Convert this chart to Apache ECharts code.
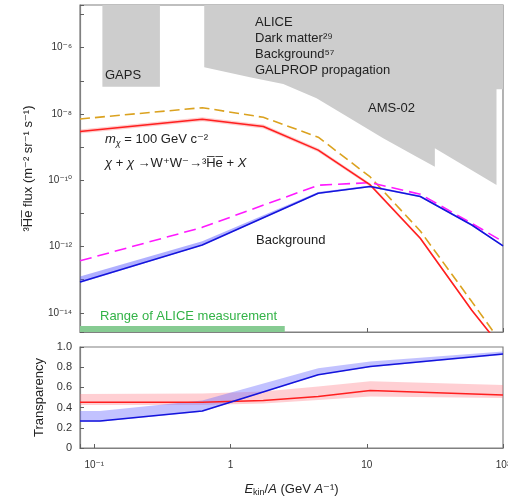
<!DOCTYPE html>
<html><head><meta charset="utf-8">
<script src="https://cdn.jsdelivr.net/npm/echarts@6/dist/echarts.min.js"></script>
<style>html,body{margin:0;padding:0;background:#fff}#c{width:508px;height:499px}</style>
</head><body><div id="c"></div>
<script>
// ---------------- data ----------------
// kinetic energy per nucleon (GeV/A)
const xTickExps = [-1, 0, 1, 2];
const xTickLabels = ['10⁻¹', '1', '10', '10²'];
const fluxTickExps = [-14, -12, -10, -8, -6];
const fluxTickLabels = ['10⁻¹⁴', '10⁻¹²', '10⁻¹⁰', '10⁻⁸', '10⁻⁶'];
const transTickLabels = ['0', '0.2', '0.4', '0.6', '0.8', '1.0'];

// dark matter 3He-bar flux (solid red with band) and GALPROP-propagated variant (dashed orange)
const dmE = [0.0785, 0.62, 1.74, 4.4, 10.6, 24.7, 59, 100];
const dmFlux = [2.95e-9, 6.92e-9, 4.17e-9, 8.13e-10, 7.24e-11, 1.78e-12, 1.2e-14, 7.9e-16];
const dmFluxHi = [3.39e-9, 7.94e-9, 4.79e-9, 9.33e-10, 8.13e-11, 1.95e-12, 1.29e-14, 8.5e-16];
const dmFluxLo = [2.57e-9, 6.03e-9, 3.63e-9, 7.08e-10, 6.46e-11, 1.62e-12, 1.12e-14, 7.4e-16];
const dmGalpropFlux = [7.08e-9, 1.55e-8, 7.94e-9, 2.0e-9, 1.26e-10, 2.95e-12, 2.19e-14, 1.07e-15];

// background flux (solid blue with band) and GALPROP variant (dashed magenta)
const bgE = [0.0785, 0.62, 4.4, 10.6, 24.7, 59, 100];
const bgFlux = [8.51e-14, 1.12e-12, 4.07e-11, 6.46e-11, 3.24e-11, 4.47e-12, 1.05e-12];
const bgFluxHi = [1.26e-13, 1.45e-12, 4.47e-11, 6.92e-11, 3.47e-11, 4.79e-12, 1.12e-12];
const bgFluxLo = [7.94e-14, 1.07e-12, 3.89e-11, 6.17e-11, 3.09e-11, 4.27e-12, 1.0e-12];
const bgGalpropFlux = [3.72e-13, 3.8e-12, 7.08e-11, 8.51e-11, 3.8e-11, 5.01e-12, 1.41e-12];

// experiment sensitivity regions (grey)
const FLUX_MIN = 2.65e-15, FLUX_MAX = 1.94e-5;
const X_MIN = 0.0785, X_MAX = 100;
const gapsE = [0.1146, 0.1146, 0.303, 0.303];
const gapsFlux = [FLUX_MAX, 6.6e-8, 6.6e-8, FLUX_MAX];
const amsE = [0.641, 0.641, 1.388, 2.436, 4.28, 7.52, 13.2, 23.2, 31.6, 31.6, 89.6, 89.6, 100, 100];
const amsFlux = [FLUX_MAX, 2.56e-7, 1.28e-7, 8.0e-8, 2.98e-8, 7.4e-9, 1.85e-9, 5.15e-10, 2.57e-10, 9.2e-10, 7.2e-11, 5.56e-8, 5.56e-8, FLUX_MAX];
const aliceRangeMaxE = 2.5;

// transparency
const trDmE = [0.0785, 0.62, 1.74, 4.4, 10.6, 100];
const trDm = [0.453, 0.453, 0.47, 0.51, 0.57, 0.525];
const trDmHi = [0.535, 0.54, 0.56, 0.61, 0.66, 0.625];
const trDmLo = [0.425, 0.425, 0.44, 0.475, 0.51, 0.495];
const trBgE = [0.0785, 0.11, 0.62, 4.4, 10.6, 100];
const trBg = [0.268, 0.268, 0.367, 0.725, 0.807, 0.93];
const trBgHi = [0.367, 0.367, 0.47, 0.79, 0.857, 0.956];
const trBgLo = [0.26, 0.26, 0.36, 0.72, 0.80, 0.922];

// ---------------- chart ----------------
// flux values are multiplied by SCALE for the log axis (its tick rounding fails for tiny values); labels undo it
const SCALE = 1e15;
const FONT = 'Liberation Sans, Arial, DejaVu Sans, sans-serif';
const pairs = (xs, ys, s) => xs.map((x, i) => [x, ys[i] * s]);
const triples = (xs, hi, lo, s) => xs.map((x, i) => [x, hi[i] * s, lo[i] * s]);

function polygonSeries(xi, yi, data, fill, z) {
  return {
    type: 'custom', xAxisIndex: xi, yAxisIndex: yi, data: data, clip: true, z: z, silent: true,
    encode: { x: 0, y: 1 },
    renderItem: function (params, api) {
      if (params.dataIndexInside !== 0) return;
      const n = params.dataInsideLength, pts = [];
      for (let i = 0; i < n; i++) pts.push(api.coord([api.value(0, i), api.value(1, i)]));
      return { type: 'polygon', shape: { points: pts }, style: { fill: fill } };
    }
  };
}
function bandSeries(xi, yi, data, fill, z) {
  return {
    type: 'custom', xAxisIndex: xi, yAxisIndex: yi, data: data, clip: true, z: z, silent: true,
    encode: { x: 0, y: [1, 2] },
    renderItem: function (params, api) {
      if (params.dataIndexInside !== 0) return;
      const n = params.dataInsideLength, pts = [];
      for (let i = 0; i < n; i++) pts.push(api.coord([api.value(0, i), api.value(1, i)]));
      for (let i = n - 1; i >= 0; i--) pts.push(api.coord([api.value(0, i), api.value(2, i)]));
      return { type: 'polygon', shape: { points: pts }, style: { fill: fill } };
    }
  };
}
function lineSeries(xi, yi, data, color, type, z) {
  return {
    type: 'line', xAxisIndex: xi, yAxisIndex: yi, data: data, showSymbol: false, symbol: 'none',
    clip: true, z: z, silent: true,
    lineStyle: { color: color, width: 1.6, type: type }
  };
}

const axisLineStyle = { show: true, lineStyle: { color: '#808080', width: 1.2 } };
const tickStyle = { show: true, inside: true, length: 4, lineStyle: { color: '#606060', width: 1 } };
function xLabel(v) {
  const l = Math.log10(v), e = Math.round(l);
  if (Math.abs(l - e) > 1e-6) return '';
  const k = xTickExps.indexOf(e);
  return k < 0 ? '' : xTickLabels[k];
}
function fluxLabel(v) {
  const l = Math.log10(v / SCALE), e = Math.round(l);
  if (Math.abs(l - e) > 1e-6) return '';
  const k = fluxTickExps.indexOf(e);
  return k < 0 ? '' : fluxTickLabels[k];
}

const chart = echarts.init(document.getElementById('c'), null, { renderer: 'canvas' });
chart.setOption({
  animation: false,
  backgroundColor: '#fff',
  textStyle: { fontFamily: FONT },
  grid: [
    { left: 80, right: 5, top: 5, height: 327, show: true, borderColor: '#808080', borderWidth: 1.2,
      backgroundColor: 'transparent', outerBoundsMode: 'none', containLabel: false },
    { left: 80, right: 5, top: 347, height: 101, show: true, borderColor: '#808080', borderWidth: 1.2,
      backgroundColor: 'transparent', outerBoundsMode: 'none', containLabel: false }
  ],
  xAxis: [
    { type: 'log', gridIndex: 0, min: X_MIN, max: X_MAX, axisLine: axisLineStyle, axisTick: tickStyle,
      axisLabel: { show: false }, splitLine: { show: false } },
    { type: 'log', gridIndex: 1, min: X_MIN, max: X_MAX, axisLine: axisLineStyle, axisTick: tickStyle,
      splitLine: { show: false },
      axisLabel: { formatter: xLabel, fontSize: 10, color: '#333', margin: 12, fontFamily: FONT, showMinLabel: true },
      name: '{it|E}{sub|kin}{n|/}{it|A}{n| (GeV }{it|A}{n|⁻¹)}', nameLocation: 'middle', nameGap: 33,
      nameTextStyle: { rich: {
        it: { fontStyle: 'italic', fontSize: 13, fontFamily: FONT, color: '#222' },
        n: { fontSize: 13, fontFamily: FONT, color: '#222' },
        sub: { fontSize: 9, fontFamily: FONT, color: '#222', padding: [7, 0, 0, 0] }
      } } }
  ],
  yAxis: [
    { type: 'log', gridIndex: 0, min: FLUX_MIN * SCALE, max: FLUX_MAX * SCALE, axisLine: axisLineStyle,
      axisTick: tickStyle, splitLine: { show: false },
      axisLabel: { formatter: fluxLabel, fontSize: 10, color: '#333', margin: 8, fontFamily: FONT },
      name: '³H̅e̅ flux (m⁻² sr⁻¹ s⁻¹)', nameLocation: 'middle', nameGap: 45, nameRotate: 90,
      nameTextStyle: { fontSize: 13, color: '#222', fontFamily: FONT } },
    { type: 'value', gridIndex: 1, min: 0, max: 1, interval: 0.2, axisLine: axisLineStyle,
      axisTick: tickStyle, splitLine: { show: false },
      axisLabel: { formatter: function (v) { const k = Math.round(v / 0.2); return transTickLabels[k] || ''; },
        fontSize: 11, color: '#333', margin: 8, fontFamily: FONT },
      name: 'Transparency', nameLocation: 'middle', nameGap: 33, nameRotate: 90,
      nameTextStyle: { fontSize: 13, color: '#222', fontFamily: FONT } }
  ],
  series: [
    polygonSeries(0, 0, pairs(gapsE, gapsFlux, SCALE), '#cdcdcd', 1),
    polygonSeries(0, 0, pairs(amsE, amsFlux, SCALE), '#cdcdcd', 1),
    {
      type: 'custom', xAxisIndex: 0, yAxisIndex: 0, data: [[aliceRangeMaxE, FLUX_MIN * SCALE]], z: 1, silent: true,
      encode: { x: 0, y: 1 },
      renderItem: function (params, api) {
        const cs = params.coordSys;
        const x1 = api.coord([api.value(0), api.value(1)])[0];
        return { type: 'rect', shape: { x: cs.x, y: cs.y + cs.height - 6, width: x1 - cs.x, height: 6 },
          style: { fill: '#86cb92' } };
      }
    },
    bandSeries(0, 0, triples(dmE, dmFluxHi, dmFluxLo, SCALE), 'rgba(255,90,90,0.3)', 2),
    bandSeries(0, 0, triples(bgE, bgFluxHi, bgFluxLo, SCALE), 'rgba(80,80,255,0.45)', 2),
    lineSeries(0, 0, pairs(dmE, dmGalpropFlux, SCALE), '#dba21f', [10, 5], 3),
    lineSeries(0, 0, pairs(bgE, bgGalpropFlux, SCALE), '#ff19ff', [12, 6], 3),
    lineSeries(0, 0, pairs(dmE, dmFlux, SCALE), '#ff1f1f', 'solid', 4),
    lineSeries(0, 0, pairs(bgE, bgFlux, SCALE), '#1414dc', 'solid', 4),

    bandSeries(1, 1, triples(trDmE, trDmHi, trDmLo, 1), 'rgba(255,110,120,0.33)', 2),
    bandSeries(1, 1, triples(trBgE, trBgHi, trBgLo, 1), 'rgba(110,110,255,0.42)', 2),
    lineSeries(1, 1, pairs(trDmE, trDm, 1), '#ff1f1f', 'solid', 4),
    lineSeries(1, 1, pairs(trBgE, trBg, 1), '#1414dc', 'solid', 4)
  ],
  graphic: [
    { type: 'text', left: 105, top: 69, z: 10, style: { text: 'GAPS', fontSize: 13, fontFamily: FONT, fill: '#222' } },
    { type: 'text', left: 255, top: 14, z: 10, style: { text: 'ALICE\nDark matter²⁹\nBackground⁵⁷\nGALPROP propagation',
      fontSize: 13, lineHeight: 16, fontFamily: FONT, fill: '#222' } },
    { type: 'text', left: 368, top: 102, z: 10, style: { text: 'AMS-02', fontSize: 13, fontFamily: FONT, fill: '#222' } },
    { type: 'text', left: 105, top: 133, z: 10, style: {
      text: '{it|m}{sub|χ}{n| = 100 GeV c⁻²}',
      rich: { it: { fontStyle: 'italic', fontSize: 13, fontFamily: FONT, fill: '#222' },
              n: { fontSize: 13, fontFamily: FONT, fill: '#222' },
              sub: { fontStyle: 'italic', fontSize: 9, fontFamily: FONT, fill: '#222', padding: [7, 0, 0, 0] } } } },
    { type: 'text', left: 105, top: 157, z: 10, style: {
      text: '{it|χ}{n| + }{it|χ}{n| →W⁺W⁻→³H̅e̅ + }{it|X}',
      rich: { it: { fontStyle: 'italic', fontSize: 13, fontFamily: FONT, fill: '#222' },
              n: { fontSize: 13, fontFamily: FONT, fill: '#222' } } } },
    { type: 'text', left: 256, top: 234, z: 10, style: { text: 'Background', fontSize: 13, fontFamily: FONT, fill: '#222' } },
    { type: 'text', left: 100, top: 310, z: 10, style: { text: 'Range of ALICE measurement', fontSize: 13, fontFamily: FONT, fill: '#33b347' } }
  ]
});
</script></body></html>
